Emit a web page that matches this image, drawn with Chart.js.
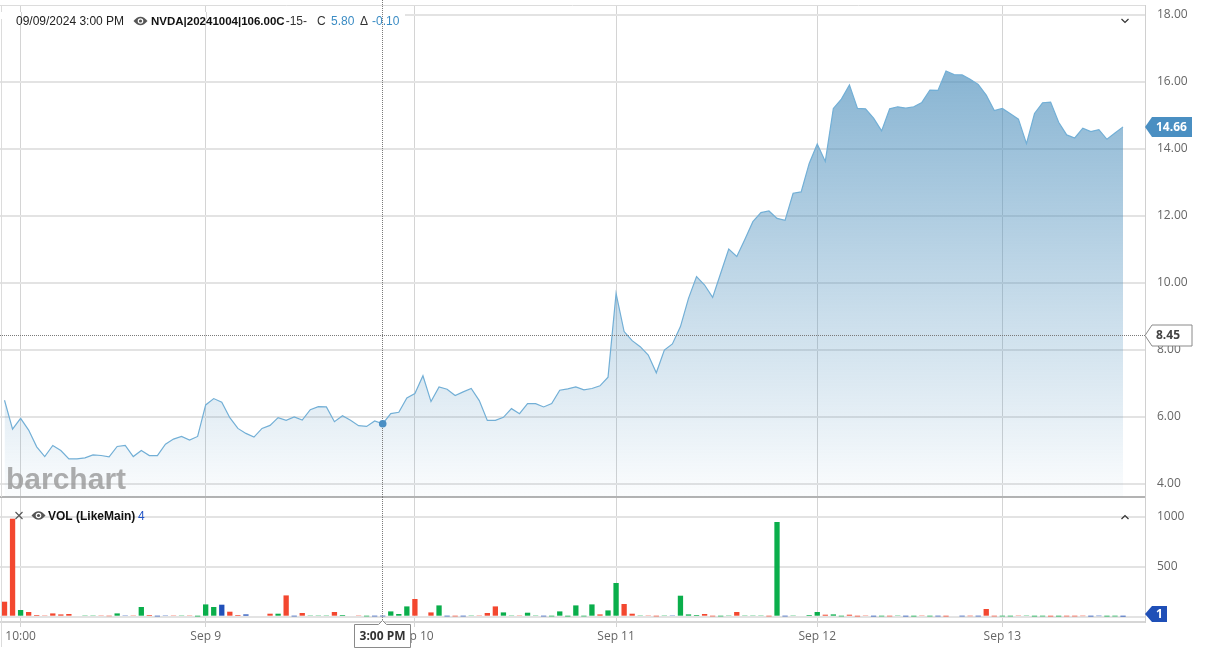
<!DOCTYPE html>
<html><head><meta charset="utf-8">
<script src="https://cdn.jsdelivr.net/npm/chart.js@4.4.1/dist/chart.umd.min.js"></script>
<style>
html,body{margin:0;padding:0;background:#fff;width:1208px;height:658px;overflow:hidden;}
#main{position:absolute;left:0;top:0;width:1208px;height:498px;}
#vol{position:absolute;left:0;top:497px;width:1208px;height:161px;}
</style></head><body>
<canvas id="main" width="1208" height="498"></canvas>
<canvas id="vol" width="1208" height="161"></canvas>
<script>
// ---- data (15-minute bars, index = bar number) ----
const price = [6.50,5.64,5.96,5.61,5.11,4.82,5.15,5.00,4.75,4.75,4.78,4.87,4.85,4.81,5.12,5.15,4.82,5.00,4.85,4.85,5.19,5.34,5.42,5.31,5.42,
6.36,6.55,6.44,5.98,5.66,5.51,5.40,5.66,5.75,5.98,5.90,6.00,5.91,6.22,6.31,6.30,5.86,6.04,5.90,5.74,5.72,5.88,5.80,6.10,6.14,6.57,
6.70,7.23,6.46,6.90,6.83,6.64,6.75,6.85,6.49,5.90,5.90,5.99,6.25,6.10,6.40,6.40,6.30,6.40,6.80,6.84,6.90,6.81,6.85,6.93,7.19,
9.69,8.55,8.28,8.10,7.85,7.32,8.00,8.18,8.70,9.54,10.19,9.94,9.57,10.29,11.01,10.79,11.30,11.83,12.10,12.15,11.93,11.87,12.68,12.72,13.57,
14.15,13.63,15.21,15.49,15.91,15.21,15.20,14.92,14.54,15.20,15.26,15.22,15.26,15.39,15.76,15.75,16.33,16.22,16.21,16.08,15.93,15.61,15.15,
15.21,15.05,14.89,14.16,15.06,15.38,15.40,14.80,14.42,14.33,14.62,14.52,14.58,14.29,14.48,14.66];
const volume = [150,980,67,47,17,13,33,23,27,10,7,7,13,5,33,13,13,97,17,3,7,13,13,13,2,
123,97,120,50,17,23,10,10,30,30,213,3,37,7,7,13,47,17,10,13,3,3,4,53,27,103,
177,10,43,113,3,3,3,7,13,37,103,43,13,13,40,13,3,3,53,2,113,3,123,23,63,
337,127,30,7,7,3,7,7,210,23,17,27,3,3,13,47,7,13,13,3,947,3,7,10,17,
47,20,23,3,20,2,13,2,3,3,7,2,2,7,3,3,2,10,3,5,3,77,3,
3,3,7,7,2,3,2,2,3,3,6,2,6,2,3,1];
// volume bar direction: u = up (green), d = down (red), n = unchanged (blue)
const volDir = ['d','d','u','d','d','d','d','d','d','d','u','u','d','d','u','n','d','u','d','n','n','d','u','d','u',
'u','u','n','d','d','n','d','u','d','u','d','n','d','u','u','u','d','u','d','d','u','n','n','u','u','u',
'd','n','d','u','n','d','n','u','d','d','d','u','u','d','u','u','n','u','u','u','u','u','u','d','u',
'u','d','d','u','d','d','u','n','u','u','u','d','d','u','u','d','u','u','u','d','u','n','u','u','u',
'u','d','u','u','d','d','d','n','u','d','u','n','u','d','u','n','d','d','n','d','n','d','d',
'u','u','d','u','u','u','d','u','d','d','d','n','n','u','u','n'];
const tickIndex = [2,25,51,76,101,124];
const tickLabels = ['10:00','Sep 9','Sep 10','Sep 11','Sep 12','Sep 13'];
const priceTicks = [4,6,8,10,12,14,16,18];
const volTicks = [0,500,1000];
const refLevel = 8.45;
const cursorIndex = 47;
const cursorLabel = '3:00 PM';
const headerDate = '09/09/2024 3:00 PM';
const symbol = 'NVDA|20241004|106.00C';
const closeVal = '5.80', changeVal = '-0.10';

// ---- layout constants ----
const AXIS_W = 63;
const X_MIN = -0.56, X_MAX = 141.73;
const FONT = "'Open Sans', sans-serif";
const HFONT = "'Liberation Sans', Arial, sans-serif";
const dirColor = {u:'#0aae4b', d:'#f3472f', n:'#2150b9'};

function noPad(s){ s.paddingTop=0; s.paddingBottom=0; s.paddingLeft=0; s.paddingRight=0; }
function eye(ctx, cx, cy){
  ctx.save();
  ctx.fillStyle='#555';
  ctx.beginPath();
  ctx.moveTo(cx-7,cy); ctx.quadraticCurveTo(cx,cy-8.5,cx+7,cy); ctx.quadraticCurveTo(cx,cy+8.5,cx-7,cy); ctx.fill();
  ctx.fillStyle='#fff'; ctx.beginPath(); ctx.arc(cx,cy,2.8,0,Math.PI*2); ctx.fill();
  ctx.fillStyle='#555'; ctx.beginPath(); ctx.arc(cx,cy,1.6,0,Math.PI*2); ctx.fill();
  ctx.restore();
}
function vline(ctx,x,y0,y1,color,dash){
  ctx.save(); ctx.strokeStyle=color; ctx.lineWidth=1; if(dash) ctx.setLineDash(dash);
  ctx.beginPath(); ctx.moveTo(x,y0); ctx.lineTo(x,y1); ctx.stroke(); ctx.restore();
}
function tag(ctx,x,yc,w,h,fill,stroke,text,textColor){
  ctx.save();
  ctx.beginPath();
  ctx.moveTo(x,yc); ctx.lineTo(x+7,yc-h/2); ctx.lineTo(x+w,yc-h/2); ctx.lineTo(x+w,yc+h/2); ctx.lineTo(x+7,yc+h/2); ctx.closePath();
  ctx.fillStyle=fill; ctx.fill();
  if(stroke){ctx.strokeStyle=stroke; ctx.lineWidth=1; ctx.stroke();}
  ctx.fillStyle=textColor; ctx.font="bold 12px "+FONT; ctx.textBaseline='middle'; ctx.textAlign='left';
  ctx.fillText(text,x+11,yc+0.5);
  ctx.restore();
}

const mainOverlay = {
  id:'mainOverlay',
  afterDraw(chart){
    const ctx=chart.ctx, a=chart.chartArea, xs=chart.scales.x, ys=chart.scales.y;
    ctx.save();
    ctx.strokeStyle='#dcdcdc'; ctx.lineWidth=1;
    ctx.beginPath(); ctx.moveTo(0,a.top+0.5); ctx.lineTo(a.right,a.top+0.5); ctx.stroke();
    ctx.beginPath(); ctx.moveTo(1.5,a.top); ctx.lineTo(1.5,a.bottom); ctx.stroke();
    ctx.restore();
    // header background band hides the top gridline
    ctx.save(); ctx.fillStyle='#fff'; ctx.fillRect(0,12,405,7); ctx.restore();
    tickIndex.forEach(t=>{const px=Math.round(xs.getPixelForValue(t))+0.5; if(px<405) vline(ctx,px,12,19,'#d6d6d6');});
    // reference dotted level
    const yr=Math.round(ys.getPixelForValue(refLevel))+0.5;
    ctx.save(); ctx.strokeStyle='#7a7a7a'; ctx.setLineDash([1,1]); ctx.lineWidth=1;
    ctx.beginPath(); ctx.moveTo(0,yr); ctx.lineTo(a.right,yr); ctx.stroke(); ctx.restore();
    // watermark
    ctx.save(); ctx.font="bold 30px "+HFONT; ctx.fillStyle='rgba(150,150,150,0.78)'; ctx.textBaseline='alphabetic';
    ctx.fillText('barchart',6,489); ctx.restore();
    // crosshair
    const cx=Math.round(xs.getPixelForValue(cursorIndex))-0.5;
    vline(ctx,cx,0,a.bottom,'#7a7a7a',[1,1]);
    ctx.save(); ctx.fillStyle='#4a8fc4'; ctx.beginPath();
    ctx.arc(xs.getPixelForValue(cursorIndex), ys.getPixelForValue(price[cursorIndex]), 3.8, 0, Math.PI*2); ctx.fill(); ctx.restore();
    // header text
    ctx.save(); ctx.textBaseline='alphabetic'; ctx.textAlign='left';
    ctx.font="12px "+HFONT; ctx.fillStyle='#222'; ctx.fillText(headerDate,16,25);
    eye(ctx,140.5,21);
    ctx.font="bold 11.5px "+HFONT; ctx.fillStyle='#111'; ctx.fillText(symbol,151,25);
    let xp = 151 + ctx.measureText(symbol).width;
    ctx.font="12px "+HFONT; ctx.fillStyle='#333'; ctx.fillText('-15-',xp+1,25);
    ctx.fillText('C',317,25);
    ctx.fillStyle='#3b8cc4'; ctx.fillText(closeVal,331,25);
    ctx.fillStyle='#333'; ctx.fillText('\u0394',360,25);
    ctx.fillStyle='#3b8cc4'; ctx.fillText(changeVal,372,25);
    ctx.restore();
    // collapse chevron
    ctx.save(); ctx.strokeStyle='#333'; ctx.lineWidth=1.2; ctx.beginPath();
    ctx.moveTo(1121.5,19); ctx.lineTo(1125,22.5); ctx.lineTo(1128.5,19); ctx.stroke(); ctx.restore();
    // price tags
    const last=price[price.length-1];
    tag(ctx,a.right,ys.getPixelForValue(last),47,20,'#4a8fc2',null,last.toFixed(2),'#fff');
    tag(ctx,a.right,yr,47,21,'#fff','#8a8a8a',refLevel.toFixed(2),'#444');
  }
};

const mainChart = new Chart(document.getElementById('main'), {
  type:'line',
  data:{datasets:[{
    data: price.map((v,i)=>({x:i,y:v})),
    borderColor:'#72afd6', borderWidth:1.2, pointRadius:0, tension:0,
    fill:'start',
    backgroundColor:(c)=>{
      const a=c.chart.chartArea; if(!a) return 'rgba(72,140,186,0.3)';
      const g=c.chart.ctx.createLinearGradient(0,60,0,a.bottom);
      g.addColorStop(0,'rgba(70,139,186,0.66)');
      g.addColorStop(1,'rgba(70,139,186,0.02)');
      return g;
    }
  }]},
  options:{
    responsive:false, animation:false, events:[],
    layout:{padding:{top:5,left:0,right:0,bottom:0}},
    plugins:{legend:{display:false},tooltip:{enabled:false}},
    scales:{
      x:{type:'linear',min:X_MIN,max:X_MAX,
        afterBuildTicks:s=>{s.ticks=tickIndex.map(v=>({value:v}));},
        ticks:{display:false},
        grid:{color:'#d4d4d4',lineWidth:1,drawTicks:false},
        border:{display:true,color:'#b3b3b3',width:2},
        afterFit:s=>{s.height=1; noPad(s);}},
      y:{position:'right',min:3.612,max:18.2985,
        afterBuildTicks:s=>{s.ticks=priceTicks.map(v=>({value:v}));},
        ticks:{color:'#666',font:{family:FONT,size:12},padding:12,callback:v=>Number(v).toFixed(2)},
        grid:{color:'#e3e3e3',lineWidth:2,drawTicks:false},
        border:{color:'#d0d0d0',width:1},
        afterFit:s=>{s.width=AXIS_W; noPad(s);}}
    }
  },
  plugins:[mainOverlay]
});

const volOverlay = {
  id:'volOverlay',
  afterDraw(chart){
    const ctx=chart.ctx, a=chart.chartArea, xs=chart.scales.x, ys=chart.scales.y;
    vline(ctx,1.5,a.top,150,'#dcdcdc');
    // legend
    ctx.save(); ctx.strokeStyle='#555'; ctx.lineWidth=1.1;
    ctx.beginPath(); ctx.moveTo(15.5,15); ctx.lineTo(22.5,22); ctx.moveTo(22.5,15); ctx.lineTo(15.5,22); ctx.stroke();
    ctx.restore();
    eye(ctx,38.5,18.5);
    ctx.save(); ctx.textBaseline='alphabetic';
    ctx.font="bold 12px "+HFONT; ctx.fillStyle='#111'; ctx.fillText('VOL (LikeMain)',48,23);
    ctx.font="12px "+HFONT; ctx.fillStyle='#2456c6'; ctx.fillText(String(volume[cursorIndex]),138,23);
    ctx.restore();
    // chevron up
    ctx.save(); ctx.strokeStyle='#333'; ctx.lineWidth=1.2; ctx.beginPath();
    ctx.moveTo(1121.5,22); ctx.lineTo(1125,18.5); ctx.lineTo(1128.5,22); ctx.stroke(); ctx.restore();
    // last volume tag
    const lastV=volume[volume.length-1];
    tag(ctx,a.right,117,22,16,'#1f4fb7',null,String(lastV),'#fff');
    // crosshair
    const cxv=xs.getPixelForValue(cursorIndex);
    const cx=Math.round(cxv)-0.5;
    vline(ctx,cx,0,126,'#7a7a7a',[1,1]);
    // time box
    ctx.save();
    const bx=354.5, by=127.5, bw=56, bh=23;
    ctx.fillStyle='#fff'; ctx.strokeStyle='#8a8a8a'; ctx.lineWidth=1;
    ctx.beginPath();
    ctx.moveTo(bx,by); ctx.lineTo(cx-4,by); ctx.lineTo(cx,by-4); ctx.lineTo(cx+4,by); ctx.lineTo(bx+bw,by);
    ctx.lineTo(bx+bw,by+bh); ctx.lineTo(bx,by+bh); ctx.closePath(); ctx.fill(); ctx.stroke();
    ctx.fillStyle='#333'; ctx.font="bold 12px "+FONT; ctx.textAlign='center'; ctx.textBaseline='middle';
    ctx.fillText(cursorLabel,bx+bw/2,by+bh/2+0.5);
    ctx.restore();
  }
};

const volChart = new Chart(document.getElementById('vol'), {
  type:'bar',
  data:{datasets:[{
    data: volume.map((v,i)=>({x:i,y:v})),
    backgroundColor: volDir.map(d=>dirColor[d]),
    barPercentage:0.66, categoryPercentage:1, borderWidth:0
  }]},
  options:{
    responsive:false, animation:false, events:[],
    layout:{padding:{top:1,left:0,right:0,bottom:0}},
    plugins:{legend:{display:false},tooltip:{enabled:false}},
    scales:{
      x:{type:'linear',min:X_MIN,max:X_MAX,offset:false,
        afterBuildTicks:s=>{s.ticks=tickIndex.map(v=>({value:v}));},
        ticks:{color:'#666',font:{family:FONT,size:12},padding:2,maxRotation:0,autoSkip:false,
          callback:(v,i)=>tickLabels[i]},
        grid:{color:'#d4d4d4',lineWidth:1,drawTicks:true,tickLength:5,offset:false},
        border:{display:true,color:'#d6d6d6',width:2},
        afterFit:s=>{s.height=36; noPad(s);}},
      y:{position:'right',min:-53,max:1187,
        afterBuildTicks:s=>{s.ticks=volTicks.map(v=>({value:v}));},
        ticks:{color:'#666',font:{family:FONT,size:12},padding:12,callback:v=>v===0?'':String(v)},
        grid:{color:'#e3e3e3',lineWidth:2,drawTicks:false},
        border:{color:'#d0d0d0',width:1},
        afterFit:s=>{s.width=AXIS_W; noPad(s);}}
    }
  },
  plugins:[volOverlay]
});
</script>
</body></html>
